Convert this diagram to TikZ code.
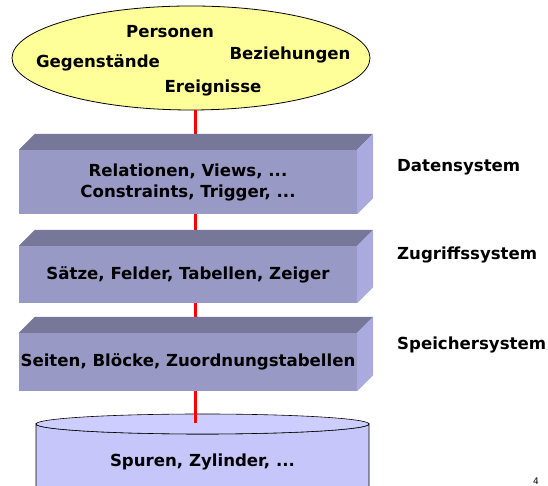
\documentclass[tikz,border=0pt]{standalone}
\usepackage{fontspec}
\setmainfont{DejaVu Sans}
\usepackage{tikz}
\usetikzlibrary{calc,shapes.geometric,positioning}

\definecolor{frontC}{HTML}{9999C6}
\definecolor{topC}{HTML}{777799}
\definecolor{sideC}{HTML}{AAAADE}
\definecolor{diskC}{HTML}{C6C6FA}
\definecolor{disktopC}{HTML}{CDCDFF}
\definecolor{ellC}{HTML}{FFFF99}

\begin{document}
\begin{tikzpicture}[x=1pt,y=1pt,
    cloud/.style={
      ellipse, draw=black, line width=0.8pt,
      fill=ellC,
      minimum width=358pt, minimum height=104pt,
      inner sep=0pt
    },
    word/.style={font=\bfseries\fontsize{16.6}{19}\selectfont, inner sep=0pt},
    layer/.style={
      fill=frontC,
      minimum width=338pt,
      inner sep=0pt, align=center,
      font=\bfseries\fontsize{16.6}{21}\selectfont
    },
    topface/.style={fill=topC},
    sideface/.style={fill=sideC},
    sysname/.style={anchor=west, inner sep=0pt, font=\bfseries\fontsize{16.6}{19}\selectfont},
    spine/.style={draw=red, line width=3pt}
  ]
  \useasboundingbox (0,0) rectangle (548,486);

  % Object world
  \node[cloud] (welt) at (191,428) {};
  \node[word] (pers)  at (170,454) {Personen};
  \node[word] (gegen) at (98,423)  {Gegenstände};
  \node[word] (bez)   at (290,431) {Beziehungen};
  \node[word] (ereig) at (213,398) {Ereignisse};

  % Disk (cut off by the page)
  \filldraw[fill=diskC, line width=0.6pt]
    (36,-30) -- (36,62) arc[start angle=180, end angle=360, x radius=166.5, y radius=10] -- (369,-30);
  \filldraw[fill=disktopC, line width=0.6pt] (202.5,62) ellipse[x radius=166.5, y radius=10];
  \node[word] (disk) at (202.5,24) {Spuren, Zylinder, ...};

  % Red spine behind the layers
  \coordinate (spine) at (195,63);
  \draw[spine] (welt.south -| spine) -- (spine);

  % Layers
  \node[layer, minimum height=64pt] (rel)    at (188,304)   {Relationen, Views, ...\\Constraints, Trigger, ...};
  \node[layer, minimum height=57pt] (saetze) at (188,211.5) {Sätze, Felder, Tabellen, Zeiger};
  \node[layer, minimum height=58pt] (seiten) at (188,124)   {Seiten, Blöcke, Zuordnungstabellen};

  \foreach \b in {rel,saetze,seiten}{
    \fill[topface] (\b.north west) -- ++(16,16) -- ($(\b.north east)+(16,16)$) -- (\b.north east) -- cycle;
    \fill[sideface] (\b.north east) -- ++(16,16) -- ($(\b.south east)+(16,16)$) -- (\b.south east) -- cycle;
  }

  % System names
  \node[sysname] (dsys) at (397,319) {Datensystem};
  \node[sysname] (zsys) at (397,231) {Zugriffssystem};
  \node[sysname] (ssys) at (397,141) {Speichersystem};

  % Page number
  \node[font=\fontsize{9}{9}\selectfont, anchor=south, inner sep=0pt] (seite) at (536,1) {4};

\end{tikzpicture}
\end{document}
